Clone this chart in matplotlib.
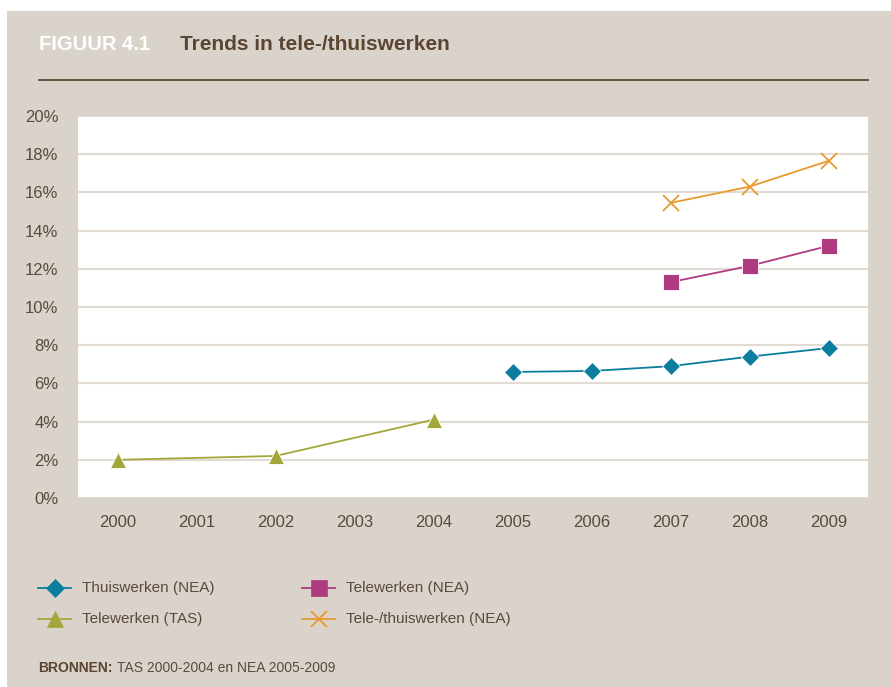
import matplotlib
matplotlib.use("Agg")
import matplotlib.pyplot as plt
from matplotlib.lines import Line2D
from matplotlib.patches import Rectangle

plt.rcParams['font.family'] = ['Liberation Sans', 'DejaVu Sans']

# data (percent)
years_tas = [2000, 2002, 2004]
tele_tas = [2.0, 2.2, 4.1]
years_nea = [2005, 2006, 2007, 2008, 2009]
thuis_nea = [6.6, 6.65, 6.9, 7.4, 7.85]
years_nea2 = [2007, 2008, 2009]
tele_nea = [11.3, 12.15, 13.2]
teletuis_nea = [15.45, 16.3, 17.65]
xtick_years = list(range(2000, 2010))
ytick_vals = list(range(0, 21, 2))

BG = '#dad3cb'
TXT = '#5a4a3a'
GRID = '#e2dbd3'
C_THUIS = '#0a7e9c'
C_TELE = '#b03a80'
C_TAS = '#a3a73a'
C_TT = '#e89a30'

W, H = 891, 687
fig = plt.figure(figsize=(W / 100, H / 100), dpi=100)
fig.patch.set_facecolor('white')
# beige panel, white margin top and left
fig.patches.append(Rectangle((7 / W, 0), 1, 1 - 11 / H, transform=fig.transFigure,
                             facecolor=BG, edgecolor='none', zorder=-5))

fig.text(39 / W, 1 - 45 / H, 'FIGUUR 4.1', color='white', fontsize=14.5,
         fontweight='bold', va='center', ha='left')
fig.text(180 / W, 1 - 45 / H, 'Trends in tele-/thuiswerken', color='#5a4630',
         fontsize=15, fontweight='bold', va='center', ha='left')
fig.add_artist(Line2D([39 / W, 868 / W], [1 - 80 / H, 1 - 80 / H],
                      transform=fig.transFigure, color='#5a4630', lw=1.3))

ax = fig.add_axes([78 / W, 1 - 498 / H, (868 - 78) / W, (498 - 116) / H])
ax.set_facecolor('white')
ax.set_xlim(1999.5, 2009.5)
ax.set_ylim(0, 20)
ax.set_yticks(ytick_vals)
ax.set_yticklabels([f'{v}%' for v in ytick_vals])
ax.set_xticks(xtick_years)
ax.set_xticklabels([str(y) for y in xtick_years])
ax.tick_params(length=0, colors=TXT, labelsize=12)
ax.tick_params(axis='x', pad=12)
ax.tick_params(axis='y', pad=14)
for s in ax.spines.values():
    s.set_visible(False)
ax.grid(axis='y', color=GRID, lw=1.5)
ax.set_axisbelow(True)

ax.plot(years_nea, thuis_nea, color=C_THUIS, lw=1.3, marker='D', ms=9,
        mec='white', mew=0.6, clip_on=False)
ax.plot(years_nea2, tele_nea, color=C_TELE, lw=1.3, marker='s', ms=11,
        mec='white', mew=0.6, clip_on=False)
ax.plot(years_tas, tele_tas, color=C_TAS, lw=1.3, marker='^', ms=12,
        mec='white', mew=0.6, clip_on=False)
ax.plot(years_nea2, teletuis_nea, color=C_TT, lw=1.3, marker='x', ms=12,
        mew=1.3, clip_on=False)

# legend drawn by hand in figure coords
entries = [
    (38, 588, C_THUIS, 'D', 9, 'Thuiswerken (NEA)'),
    (302, 588, C_TELE, 's', 11, 'Telewerken (NEA)'),
    (38, 619, C_TAS, '^', 12, 'Telewerken (TAS)'),
    (302, 619, C_TT, 'x', 12, 'Tele-/thuiswerken (NEA)'),
]
for x0, y0, c, m, ms, lab in entries:
    yy = 1 - y0 / H
    fig.add_artist(Line2D([x0 / W, (x0 + 33) / W], [yy, yy], transform=fig.transFigure,
                          color=c, lw=1.3))
    fig.add_artist(Line2D([(x0 + 16.5) / W], [yy], transform=fig.transFigure,
                          color=c, marker=m, ms=ms, mew=1.3 if m == 'x' else 0.5,
                          mec=c, ls='none'))
    fig.text((x0 + 44) / W, yy, lab, color=TXT, fontsize=11, va='center', ha='left')

fig.text(38 / W, 1 - 668 / H, 'BRONNEN:', color='#5a4630', fontsize=10,
         fontweight='bold', va='center', ha='left')
fig.text(117 / W, 1 - 668 / H, 'TAS 2000-2004 en NEA 2005-2009', color=TXT,
         fontsize=10, va='center', ha='left')

fig.savefig('out.png', dpi=100, facecolor=fig.get_facecolor())
